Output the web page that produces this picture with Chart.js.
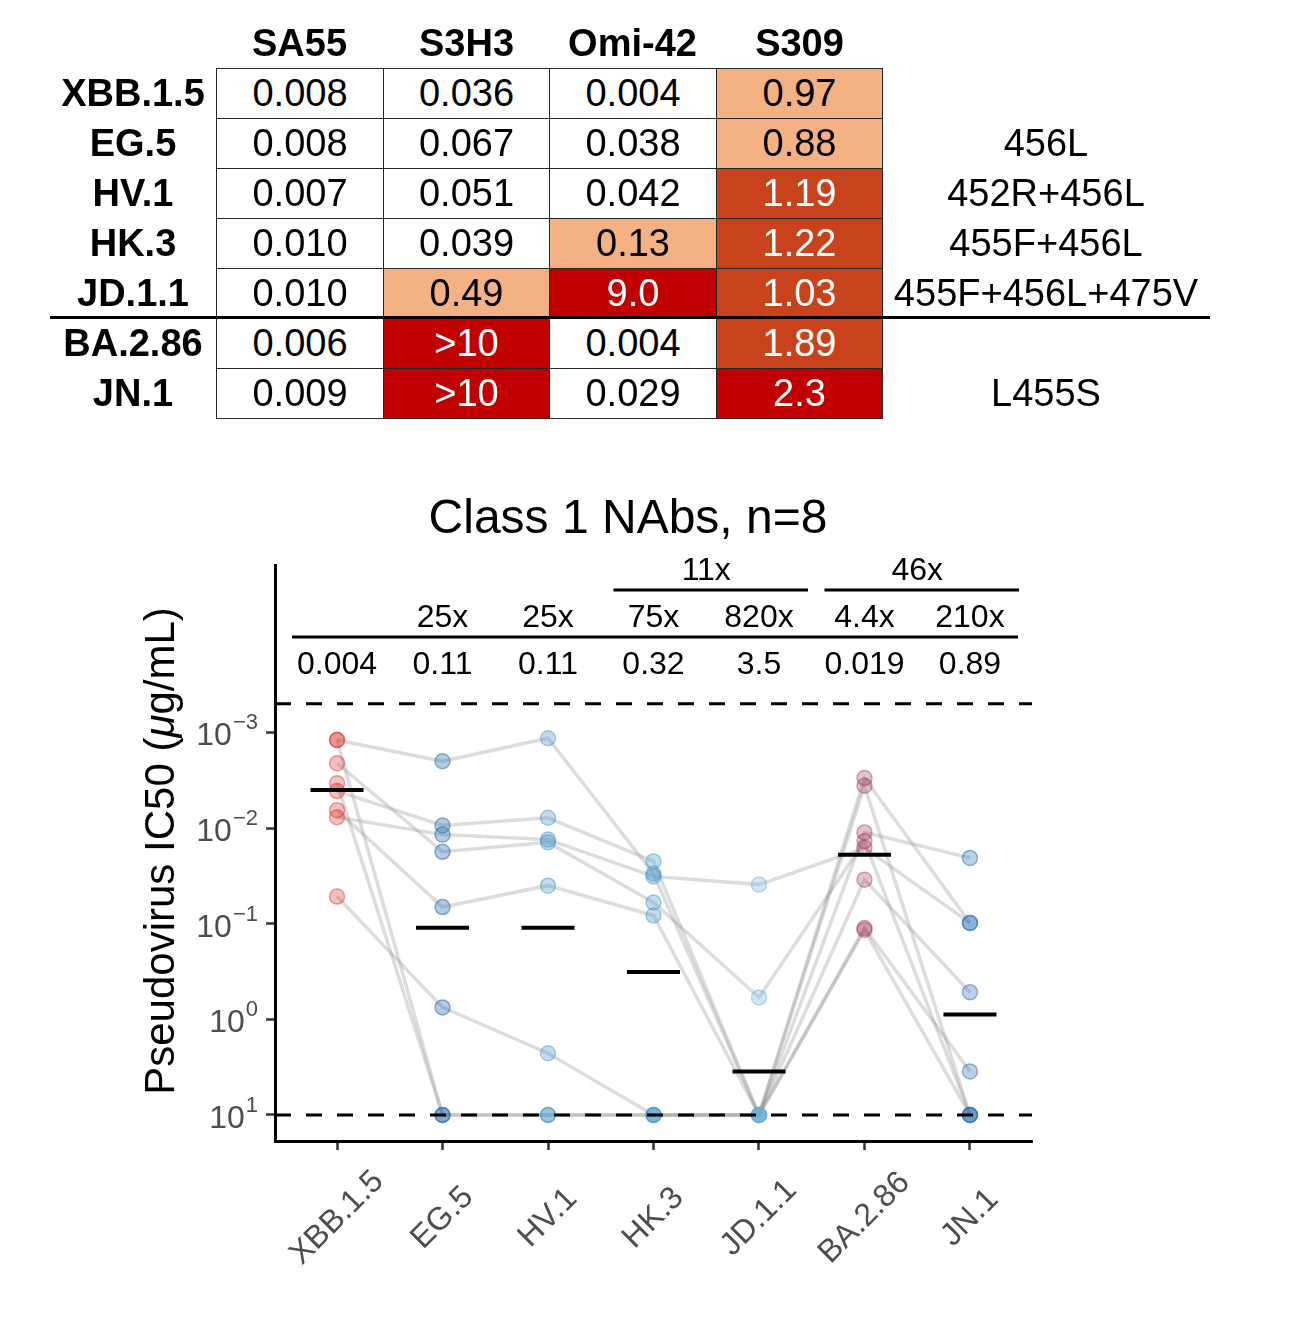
<!DOCTYPE html>
<html>
<head>
<meta charset="utf-8">
<script src="https://cdn.jsdelivr.net/npm/chart.js@4.4.1/dist/chart.umd.min.js"></script>
<style>
  html, body { margin: 0; padding: 0; background: #fff; }
  #wrap { position: relative; width: 1299px; height: 1317px; overflow: hidden; background: #fff; }
  #c { position: absolute; left: 0; top: 0; }
  .cell { position: absolute; box-sizing: border-box; display: flex; align-items: center; justify-content: center;
          font-family: "Liberation Sans", Arial, sans-serif; font-size: 38px; color: #000; white-space: nowrap; }
  .bold { font-weight: bold; }
  .data { border: 1px solid #262626; }
  #sep { position: absolute; left: 50px; top: 316px; width: 1160px; height: 3px; background: #000; }
</style>
</head>
<body>
<div id="wrap">
  <canvas id="c" width="1299" height="1317"></canvas>
  <div id="table"></div>
</div>
<script>
// ---------------- Table data ----------------
const tableCols = ['SA55', 'S3H3', 'Omi-42', 'S309'];
const tableRows = ['XBB.1.5', 'EG.5', 'HV.1', 'HK.3', 'JD.1.1', 'BA.2.86', 'JN.1'];
const tableVals = [
  ['0.008', '0.036', '0.004', '0.97'],
  ['0.008', '0.067', '0.038', '0.88'],
  ['0.007', '0.051', '0.042', '1.19'],
  ['0.010', '0.039', '0.13',  '1.22'],
  ['0.010', '0.49',  '9.0',   '1.03'],
  ['0.006', '>10',   '0.004', '1.89'],
  ['0.009', '>10',   '0.029', '2.3']
];
// colour level of each cell: 0 none, 1 light, 2 mid, 3 dark
const tableLevels = [
  [0, 0, 0, 1],
  [0, 0, 0, 1],
  [0, 0, 0, 2],
  [0, 0, 1, 2],
  [0, 1, 3, 2],
  [0, 3, 0, 2],
  [0, 3, 0, 3]
];
const mutations = ['', '456L', '452R+456L', '455F+456L', '455F+456L+475V', '', 'L455S'];

// ---------------- Plot data ----------------
const variants = ['XBB.1.5', 'EG.5', 'HV.1', 'HK.3', 'JD.1.1', 'BA.2.86', 'JN.1'];
// IC50 (ug/mL) of each of the 8 class 1 NAbs against each variant
const nAbA = [0.0012, 0.0020, 0.00115, 0.030, 10,   0.0030, 0.098];
const nAbB = [0.0012, 10,     10,      10,    10,   0.0036, 10];
const nAbC = [0.0021, 0.0177, 0.0141,  0.060, 0.59, 0.0137, 10];
const nAbD = [0.0034, 10,     10,      10,    10,   0.0111, 0.0205];
const nAbE = [0.0041, 0.0094, 0.0078,  0.0223, 10,  0.0346, 0.52];
const nAbF = [0.0065, 0.067,  0.040,   0.082, 10,   0.111,  3.5];
const nAbG = [0.0077, 0.0117, 0.0132,  0.032, 0.039, 0.0161, 0.098];
const nAbH = [0.052,  0.75,   2.26,    10,    10,   0.116,  10];
const antibodies = [nAbA, nAbB, nAbC, nAbD, nAbE, nAbF, nAbG, nAbH];

const geoMeans = [0.004, 0.11, 0.11, 0.32, 3.5, 0.019, 0.89];
const geoMeanLabels = ['0.004', '0.11', '0.11', '0.32', '3.5', '0.019', '0.89'];
const foldLabels = ['', '25x', '25x', '75x', '820x', '4.4x', '210x'];
const groupFoldLabels = ['11x', '46x'];
const groupFoldFrom = [3, 5];
const groupFoldTo = [4, 6];
const yTickValues = [1e-3, 1e-2, 1e-1, 1, 10];
const yTickExponents = ['\u22123', '\u22122', '\u22121', '0', '1'];
const upperLimit = 10;
const lowerLimit = 0.0005;

// ---------------- Table build ----------------
(function buildTable() {
  const host = document.getElementById('table');
  const levelBg = ['#ffffff', '#F4B183', '#C8431B', '#C00000'];
  const levelFg = ['#000', '#000', '#fff', '#fff'];
  const colX0 = 216, colW = 166.5, rowY0 = 68, rowH = 50, headTop = 18;
  const add = (cls, left, top, w, h, text, style) => {
    const d = document.createElement('div');
    d.className = 'cell ' + cls;
    d.style.left = left + 'px'; d.style.top = top + 'px';
    d.style.width = w + 'px'; d.style.height = h + 'px';
    if (style) Object.assign(d.style, style);
    d.textContent = text;
    host.appendChild(d);
  };
  tableCols.forEach((c, j) => add('bold', Math.round(colX0 + j * colW), headTop, Math.round(colW), rowY0 - headTop, c));
  tableRows.forEach((r, i) => {
    const top = rowY0 + i * rowH;
    add('bold', 50, top, 166, rowH, r);
    tableVals[i].forEach((v, j) => {
      const lv = tableLevels[i][j];
      const l = Math.round(colX0 + j * colW), r2 = Math.round(colX0 + (j + 1) * colW);
      add('data', l, top, r2 - l + 1, rowH + 1, v, { background: levelBg[lv], color: levelFg[lv] });
    });
    add('', 882, top, 328, rowH, mutations[i]);
  });
  const sep = document.createElement('div'); sep.id = 'sep'; host.appendChild(sep);
})();

// ---------------- Chart ----------------
const xMin = -0.588, xMax = 6.588;
const yMin = Math.pow(10, -4.751), yMax = Math.pow(10, 1.272);
const FONT = '"Liberation Sans", Arial, sans-serif';

const pointFill = ['rgba(215,48,39,0.30)', 'rgba(33,102,172,0.34)', 'rgba(67,147,195,0.32)', 'rgba(67,147,195,0.32)',
                   'rgba(107,174,214,0.30)', 'rgba(150,40,80,0.27)', 'rgba(45,112,180,0.32)'];
const pointEdge = ['rgba(215,48,39,0.45)', 'rgba(33,102,172,0.5)', 'rgba(67,147,195,0.45)', 'rgba(67,147,195,0.45)',
                   'rgba(107,174,214,0.45)', 'rgba(150,40,80,0.4)', 'rgba(45,112,180,0.5)'];

const datasets = [];
antibodies.forEach(arr => {
  datasets.push({
    type: 'line', order: 5,
    data: arr.map((v, i) => ({ x: i, y: v })),
    borderColor: 'rgba(140,140,140,0.30)', borderWidth: 3.5,
    pointRadius: 0, tension: 0, fill: false
  });
});
variants.forEach((name, i) => {
  datasets.push({
    type: 'scatter', order: 4,
    data: antibodies.map(arr => ({ x: i, y: arr[i] })),
    backgroundColor: pointFill[i], borderColor: pointEdge[i],
    pointRadius: 7.5, borderWidth: 1.5
  });
});
datasets.push({
  type: 'scatter', order: 3,
  data: geoMeans.map((v, i) => ({ x: i, y: v })),
  pointStyle: 'line', pointRadius: 26.5, borderWidth: 4, borderColor: '#000', backgroundColor: '#000'
});
[upperLimit, lowerLimit].forEach(v => {
  datasets.push({
    type: 'line', order: 1,
    data: [{ x: xMin, y: v }, { x: xMax, y: v }],
    borderColor: '#000', borderWidth: 3, borderDash: [16, 15], pointRadius: 0, fill: false
  });
});

const annotPlugin = {
  id: 'annot',
  afterDraw(chart) {
    const ctx = chart.ctx;
    const xs = chart.scales.x, ys = chart.scales.y;
    ctx.save();
    ctx.fillStyle = '#000';
    ctx.strokeStyle = '#000';

    // Title
    ctx.font = '48px ' + FONT;
    ctx.textAlign = 'center'; ctx.textBaseline = 'alphabetic';
    ctx.fillText('Class 1 NAbs, n=8', 628, 533);

    // Geometric means row
    ctx.font = '32px ' + FONT;
    geoMeanLabels.forEach((t, i) => ctx.fillText(t, xs.getPixelForValue(i), 674));
    // line above means
    ctx.lineWidth = 3;
    ctx.beginPath();
    ctx.moveTo(xs.getPixelForValue(0) - 45, 637);
    ctx.lineTo(xs.getPixelForValue(variants.length - 1) + 48, 637);
    ctx.stroke();
    // fold row
    foldLabels.forEach((t, i) => { if (t) ctx.fillText(t, xs.getPixelForValue(i), 627); });
    // group folds
    groupFoldLabels.forEach((t, k) => {
      const a = xs.getPixelForValue(groupFoldFrom[k]), b = xs.getPixelForValue(groupFoldTo[k]);
      ctx.beginPath();
      ctx.moveTo(a - 40, 590); ctx.lineTo(b + 49, 590); ctx.stroke();
      ctx.fillText(t, (a + b) / 2, 580);
    });

    // Y tick labels 10^n
    ctx.fillStyle = '#4D4D4D';
    yTickValues.forEach((v, k) => {
      const y = ys.getPixelForValue(v);
      ctx.font = '22px ' + FONT;
      const wExp = ctx.measureText(yTickExponents[k]).width;
      ctx.textAlign = 'left';
      ctx.fillText(yTickExponents[k], 258 - wExp, y - 3);
      ctx.font = '32px ' + FONT;
      const w10 = ctx.measureText('10').width;
      ctx.fillText('10', 258 - wExp - w10 - 1, y + 13);
    });

    // X tick labels (rotated 45deg, centred under tick)
    ctx.font = '32px ' + FONT;
    ctx.textAlign = 'center'; ctx.textBaseline = 'middle';
    variants.forEach((t, i) => {
      ctx.save();
      ctx.translate(xs.getPixelForValue(i), 1218);
      ctx.rotate(-Math.PI / 4);
      ctx.fillText(t, 0, 0);
      ctx.restore();
    });

    // Y axis title with italic mu
    ctx.fillStyle = '#000';
    ctx.textBaseline = 'alphabetic'; ctx.textAlign = 'left';
    ctx.save();
    ctx.translate(174, 851);
    ctx.rotate(-Math.PI / 2);
    const parts = [['Pseudovirus IC50 (', ''], ['\u03BC', 'italic '], ['g/mL)', '']];
    let total = 0;
    parts.forEach(p => { ctx.font = p[1] + '42px ' + FONT; total += ctx.measureText(p[0]).width; });
    let x = -total / 2;
    parts.forEach(p => { ctx.font = p[1] + '42px ' + FONT; ctx.fillText(p[0], x, 0); x += ctx.measureText(p[0]).width; });
    ctx.restore();

    ctx.restore();
  }
};

new Chart(document.getElementById('c'), {
  type: 'scatter',
  data: { datasets },
  options: {
    responsive: false, animation: false, devicePixelRatio: 1,
    layout: { padding: { top: 565, left: 0, right: 267, bottom: 0 } },
    plugins: { legend: { display: false }, tooltip: { enabled: false }, title: { display: false } },
    events: [],
    scales: {
      x: {
        type: 'linear', min: xMin, max: xMax, bounds: 'data',
        afterBuildTicks: s => { s.ticks = variants.map((_, i) => ({ value: i })); },
        afterFit: s => { s.height = 1317 - 1141; },
        ticks: { display: false },
        grid: { display: true, drawOnChartArea: false, drawTicks: true, tickLength: 9, tickWidth: 2.5, tickColor: '#333' },
        border: { display: true, color: '#000', width: 3 }
      },
      y: {
        type: 'logarithmic', reverse: true, min: yMin, max: yMax, bounds: 'data',
        afterBuildTicks: s => { s.ticks = yTickValues.map(v => ({ value: v })); },
        afterFit: s => { s.width = 275; },
        ticks: { display: false },
        grid: { display: true, drawOnChartArea: false, drawTicks: true, tickLength: 9, tickWidth: 2.5, tickColor: '#333' },
        border: { display: true, color: '#000', width: 3 }
      }
    }
  },
  plugins: [annotPlugin]
});
</script>
</body>
</html>
